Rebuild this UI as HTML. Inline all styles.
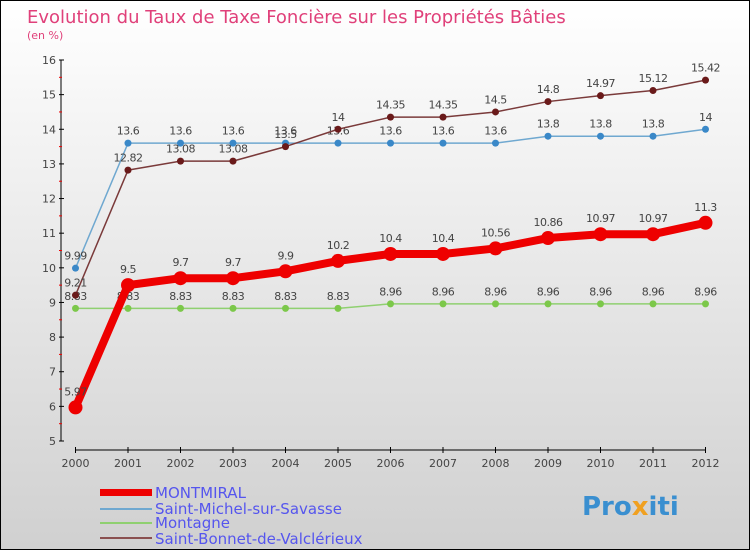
<!DOCTYPE html>
<html><head><meta charset="utf-8"><style>
body{margin:0}
#c{width:750px;height:550px;position:relative;font-family:"DejaVu Sans","Liberation Sans",sans-serif}
</style></head><body>
<div id="c">
<svg id="s" width="750" height="550" xmlns="http://www.w3.org/2000/svg">
<defs><linearGradient id="bg" x1="0" y1="0" x2="0" y2="1"><stop offset="0" stop-color="#ffffff"/><stop offset="1" stop-color="#d0d0d0"/></linearGradient></defs>
<rect x="0.5" y="0.5" width="749" height="549" fill="url(#bg)" stroke="#000"/>
<text x="27" y="23" font-size="18" fill="#e0407a">Evolution du Taux de Taxe Foncière sur les Propriétés Bâties</text>
<text x="27" y="39" font-size="11" fill="#e0407a">(en %)</text>
<g id="axes"></g><g id="series"></g>
<g>
<rect x="100" y="489" width="52" height="7" fill="#e00"/>
<text x="155" y="498" font-size="15" fill="#5555ee">MONTMIRAL</text>
<rect x="100" y="508" width="52" height="2" fill="#6fa8d0"/>
<text x="155" y="514" font-size="15" fill="#5555ee">Saint-Michel-sur-Savasse</text>
<rect x="100" y="522" width="52" height="2" fill="#8fd070"/>
<text x="155" y="528" font-size="15" fill="#5555ee">Montagne</text>
<rect x="100" y="537" width="52" height="2" fill="#8a5050"/>
<text x="155" y="544" font-size="15" fill="#5555ee">Saint-Bonnet-de-Valclérieux</text>
</g>
<text x="582" y="515" font-size="26" font-weight="bold" fill="#3a8fd0">Pro<tspan fill="#f0a020">x</tspan>iti</text>
</svg></div>
<script>
const years=[2000,2001,2002,2003,2004,2005,2006,2007,2008,2009,2010,2011,2012];
const yTicks=[5,6,7,8,9,10,11,12,13,14,15,16];
const montmiral=[5.97,9.5,9.7,9.7,9.9,10.2,10.4,10.4,10.56,10.86,10.97,10.97,11.3];
const saintMichel=[9.99,13.6,13.6,13.6,13.6,13.6,13.6,13.6,13.6,13.8,13.8,13.8,14];
const montagne=[8.83,8.83,8.83,8.83,8.83,8.83,8.96,8.96,8.96,8.96,8.96,8.96,8.96];
const saintBonnet=[9.21,12.82,13.08,13.08,13.5,14,14.35,14.35,14.5,14.8,14.97,15.12,15.42];
const NS="http://www.w3.org/2000/svg";
const xs=i=>75.5+i*52.5;
const ys=v=>441-(v-5)*(381/11);
function mk(t,a,p){const e=document.createElementNS(NS,t);for(const k in a)e.setAttribute(k,a[k]);p.appendChild(e);return e;}
const ax=document.getElementById('axes');
let l=mk('line',{x1:61,y1:60,x2:61,y2:441,stroke:'#000'},ax);


l=mk('line',{x1:75,y1:450,x2:706,y2:450,stroke:'#000'},ax);


yTicks.forEach(v=>{
 const y=ys(v);
 mk('line',{x1:59,y1:y,x2:64,y2:y,stroke:'#000'},ax);
 if(v<16)mk('line',{x1:59,y1:ys(v+0.5),x2:62,y2:ys(v+0.5),stroke:'#e00'},ax);
 const t=mk('text',{x:56,y:y+4,'font-size':11,fill:'#444','text-anchor':'end'},ax);
 t.textContent=v;
 
 
});
years.forEach((yr,i)=>{
 const x=xs(i);
 mk('line',{x1:x,y1:447,x2:x,y2:453,stroke:'#000'},ax);
 const t=mk('text',{x:x,y:467,'font-size':11,fill:'#444','text-anchor':'middle'},ax);
 t.textContent=yr;
 
 
});
const sg=document.getElementById('series');
function draw(vals,color,w,r,name,dot){
 const g=mk('g',{},sg);
 
 
 const p=mk('polyline',{points:vals.map((v,i)=>xs(i)+','+ys(v)).join(' '),fill:'none',stroke:color,'stroke-width':w,'stroke-linejoin':'round'},g);
 
 
 vals.forEach((v,i)=>{
  const c=mk('circle',{cx:xs(i),cy:ys(v),r:r,fill:dot||color},g);
  
  
  const t=mk('text',{x:xs(i),y:ys(v)-r-5,'font-size':11,fill:'#444','text-anchor':'middle','letter-spacing':'-0.5'},g);
  t.textContent=v;
  
  
 });
}
draw(montagne,'#8fd070',1.5,3.5,'montagne','#7cc84a');
draw(saintMichel,'#6fa8d0',1.5,3.5,'saint-michel','#3a88c8');
draw(saintBonnet,'#7a3a3a',1.5,3.5,'saint-bonnet','#6a1a1a');
draw(montmiral,'#ee0000',8,7,'montmiral','#ee0000');
</script>
</body></html>
